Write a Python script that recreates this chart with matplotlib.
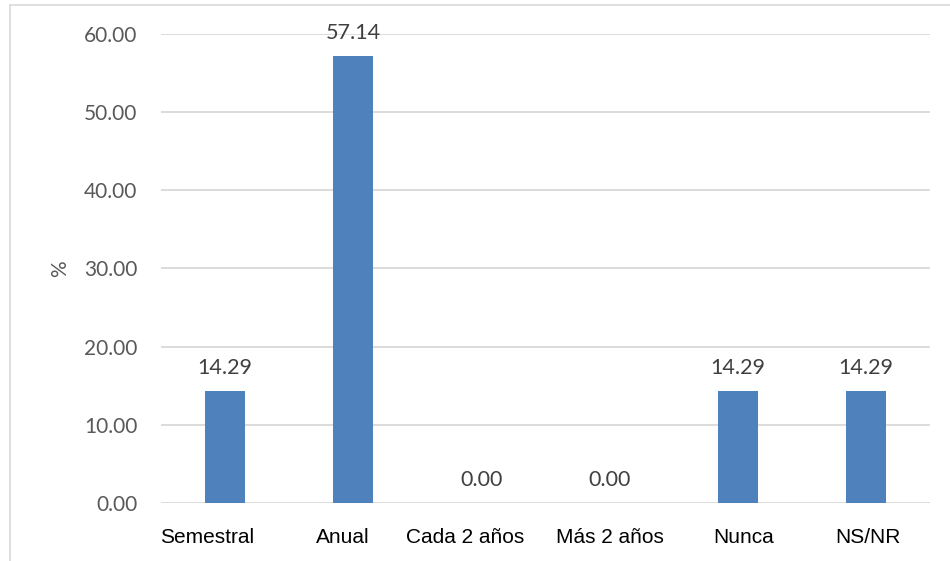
import matplotlib.pyplot as plt
from matplotlib.lines import Line2D
from matplotlib.transforms import ScaledTranslation

categories = ["Semestral", "Anual", "Cada 2 años", "Más 2 años", "Nunca", "NS/NR"]
percentages = [14.29, 57.14, 0.00, 0.00, 14.29, 14.29]
y_ticks = [0, 10, 20, 30, 40, 50, 60]

# horizontal nudges (px) of the category labels as they sit in the original chart
label_shift_px = [-18, -11, -16, 0, 6, 2]

fig = plt.figure(figsize=(9.5, 5.61), dpi=100)
ax = fig.add_axes([0.1695, 0.1034, 0.8095, 0.836])

x = range(len(categories))
bars = ax.bar(x, percentages, width=0.31, color="#4F81BD", zorder=3)

ax.set_ylim(0, 60)
ax.set_xlim(-0.5, len(categories) - 0.5)
ax.set_yticks(y_ticks)
ax.set_yticklabels([f"{v:.2f}" for v in y_ticks], family="Lato", fontsize=15, color="#595959")
ax.set_xticks(list(x))
ax.set_xticklabels(categories, family="Liberation Sans", fontsize=15, color="black")
ax.tick_params(axis="both", length=0)
ax.tick_params(axis="y", pad=17)
ax.tick_params(axis="x", pad=18)

for lab, dx in zip(ax.get_xticklabels(), label_shift_px):
    lab.set_transform(lab.get_transform() + ScaledTranslation(dx / 100, 0, fig.dpi_scale_trans))

ax.yaxis.grid(True, color="#D9D9D9", linewidth=1.3, zorder=0)
for s in ax.spines.values():
    s.set_visible(False)

ax.set_ylabel("%", family="Lato", fontsize=15, color="#595959", labelpad=10)

for b, v in zip(bars, percentages):
    ax.annotate(f"{v:.2f}", (b.get_x() + b.get_width() / 2, v), xytext=(0, 9.5),
                textcoords="offset points", ha="center", va="bottom",
                family="Lato", fontsize=15.5, color="#404040")

# outer chart frame (left and top edges visible)
fig.add_artist(Line2D([0.0105, 0.0105], [0, 0.991], color="#D9D9D9", linewidth=1.2))
fig.add_artist(Line2D([0.0105, 1.0], [0.991, 0.991], color="#D9D9D9", linewidth=1.2))

fig.savefig("out.png", dpi=100)
